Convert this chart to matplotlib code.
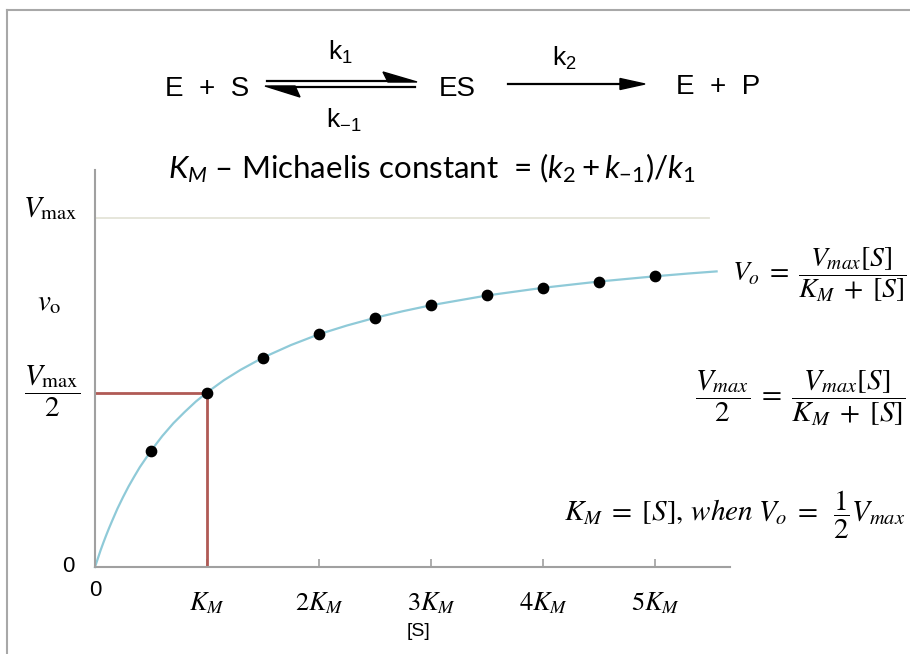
import matplotlib
matplotlib.use("Agg")
import matplotlib.pyplot as plt
from matplotlib.lines import Line2D
from matplotlib.patches import Polygon

plt.rcParams['font.family'] = ['Liberation Sans', 'DejaVu Sans']
plt.rcParams['mathtext.fontset'] = 'stix'
plt.rcParams['mathtext.rm'] = 'Lato'
plt.rcParams['mathtext.it'] = 'Lato:italic'

# ---- data (substrate in units of K_M, velocity in units of Vmax) ----
point_s = [0.5, 1.0, 1.5, 2.0, 2.5, 3.0, 3.5, 4.0, 4.5, 5.0]
point_v = [0.333, 0.50, 0.60, 0.667, 0.714, 0.75, 0.778, 0.80, 0.818, 0.833]
curve_s = [0.0, 0.025, 0.05, 0.075, 0.1, 0.125, 0.15, 0.2, 0.25, 0.3, 0.35, 0.4, 0.5,
           0.6, 0.7, 0.8, 0.9, 1.0, 1.15, 1.3, 1.5, 1.75, 2.0, 2.25, 2.5, 2.75, 3.0,
           3.5, 4.0, 4.5, 5.0, 5.3, 5.55]
curve_v = [0.0, 0.024, 0.048, 0.070, 0.091, 0.111, 0.130, 0.167, 0.20, 0.231, 0.259,
           0.286, 0.333, 0.375, 0.412, 0.444, 0.474, 0.50, 0.535, 0.565, 0.60, 0.636,
           0.667, 0.692, 0.714, 0.733, 0.75, 0.778, 0.80, 0.818, 0.833, 0.841, 0.847]
km_value = 1.0
half_vmax = 0.5
vmax_value = 1.0
xtick_vals = [1, 2, 3, 4, 5]
xtick_labels = [r'$K_M$', r'$2K_M$', r'$3K_M$', r'$4K_M$', r'$5K_M$']

W, H = 910, 654
fig = plt.figure(figsize=(W / 100, H / 100), dpi=100)


def fx(x):
    return x / W


def fy(y):
    return 1 - y / H


ax_l, ax_r, ax_t, ax_b = 95, 730, 170, 567
ax = fig.add_axes([fx(ax_l), fy(ax_b), (ax_r - ax_l) / W, (ax_b - ax_t) / H])
ppu_x = (655 - 95) / 5.0
ppu_y = (567 - 218) / 1.0
ax.set_xlim(0, (ax_r - ax_l) / ppu_x)
ax.set_ylim(0, (ax_b - ax_t) / ppu_y)

for s in ['top', 'right']:
    ax.spines[s].set_visible(False)
for s in ['left', 'bottom']:
    ax.spines[s].set_color('#a0a0a0')
    ax.spines[s].set_linewidth(1.5)

ax.set_xticks(xtick_vals)
ax.set_xticklabels([])
ax.tick_params(axis='x', direction='in', length=6, width=1.2, color='#a0a0a0')
ax.set_yticks([])

# Vmax guide line
ax.plot([0, 5.48], [vmax_value, vmax_value], color='#e4e4d8', lw=1.3)
# KM guide lines
ax.plot([0, km_value], [half_vmax, half_vmax], color='#b05a55', lw=2)
ax.plot([km_value, km_value], [0, half_vmax], color='#b05a55', lw=2)
# curve & points
ax.plot(curve_s, curve_v, color='#8fcad8', lw=1.6, clip_on=False)
ax.scatter(point_s, point_v, s=55, color='black', zorder=5)

# x tick labels
for v, lab in zip(xtick_vals, xtick_labels):
    ax.text(v, -0.105, lab, ha='center', va='center', fontsize=19, math_fontfamily='stix')
ax.text(0, -0.066, '0', ha='center', va='center', fontsize=16)
fig.text(fx(418), fy(632), '[S]', ha='center', va='center', fontsize=14)
fig.text(fx(68), fy(567), '0', ha='center', va='center', fontsize=16)

# y labels
fig.text(fx(50), fy(208), r'$V_{\mathrm{max}}$', ha='center', va='center', fontsize=21,
         math_fontfamily='stix')
fig.text(fx(49), fy(302), r'$v_{\mathrm{o}}$', ha='center', va='center', fontsize=21,
         math_fontfamily='stix')
fig.text(fx(52), fy(391), r'$\dfrac{V_{\mathrm{max}}}{2}$', ha='center', va='center',
         fontsize=21, math_fontfamily='stix')

# right-side equations
fig.text(fx(906), fy(275), r'$V_o \;=\; \dfrac{V_{max}[S]}{K_M\;+\;[S]}$', ha='right',
         va='center', fontsize=20, math_fontfamily='stix')
fig.text(fx(905), fy(398), r'$\dfrac{V_{max}}{2} \;=\; \dfrac{V_{max}[S]}{K_M\;+\;[S]}$',
         ha='right', va='center', fontsize=21, math_fontfamily='stix')
fig.text(fx(905), fy(515), r'$K_M\;=\;[S],\,when\;V_o\;=\;\;\dfrac{1}{2}V_{max}$', ha='right',
         va='center', fontsize=21, math_fontfamily='stix')

# reaction scheme
sans = 'Liberation Sans'
fig.text(fx(207), fy(89), 'E  +  S', ha='center', va='center', fontsize=20, family=sans)
fig.text(fx(457), fy(89), 'ES', ha='center', va='center', fontsize=20, family=sans)
fig.text(fx(718), fy(87), 'E  +  P', ha='center', va='center', fontsize=20, family=sans)
fig.text(fx(340), fy(52), r'$\mathregular{k_1}$', ha='center', va='center', fontsize=19,
         family=sans)
fig.text(fx(344), fy(120), r'$\mathregular{k_{-1}}$', ha='center', va='center', fontsize=19,
         family=sans)
fig.text(fx(564), fy(58), r'$\mathregular{k_2}$', ha='center', va='center', fontsize=19,
         family=sans)

tf = fig.transFigure
fig.add_artist(Line2D([fx(267), fx(410)], [fy(81), fy(81)], color='black', lw=1.6, transform=tf))
fig.add_artist(Polygon([(fx(417), fy(82)), (fx(383), fy(72)), (fx(388), fy(82))], closed=True,
                       color='black', transform=tf))
fig.add_artist(Line2D([fx(272), fx(415)], [fy(87), fy(87)], color='black', lw=1.6, transform=tf))
fig.add_artist(Polygon([(fx(265), fy(86)), (fx(300), fy(97)), (fx(295), fy(86))], closed=True,
                       color='black', transform=tf))
fig.add_artist(Line2D([fx(508), fx(625)], [fy(84), fy(84)], color='black', lw=1.6, transform=tf))
fig.add_artist(Polygon([(fx(645), fy(84)), (fx(620), fy(78.5)), (fx(620), fy(89.5))], closed=True,
                       color='black', transform=tf))

# Michaelis constant formula
fig.text(fx(432), fy(168), r'$K_M$ – Michaelis constant  = $(k_2 + k_{\mathit{-1}})/k_1$',
         ha='center', va='center', fontsize=22.5, family='Lato', math_fontfamily='custom')

# frame
fig.add_artist(Line2D([fx(7), fx(910)], [fy(10), fy(10)], color='#a8a8a8', lw=1.5, transform=tf))
fig.add_artist(Line2D([fx(7), fx(7)], [fy(10), fy(654)], color='#a8a8a8', lw=1.5, transform=tf))

fig.savefig('out.png', dpi=100)
